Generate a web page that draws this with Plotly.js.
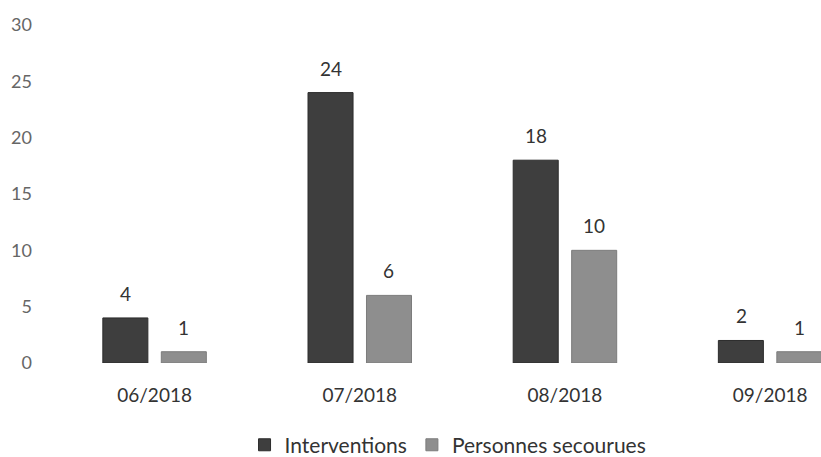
<!DOCTYPE html>
<html>
<head>
<meta charset="utf-8">
<script src="https://cdn.plot.ly/plotly-3.0.1.min.js"></script>
<style>html,body{margin:0;padding:0;background:#fff;}#chart{width:821px;height:457px;}</style>
</head>
<body>
<div id="chart"></div>
<script>
const months = ["06/2018", "07/2018", "08/2018", "09/2018"];
const interventions = [4, 24, 18, 2];
const personnesSecourues = [1, 6, 10, 1];
const yTicks = [0, 5, 10, 15, 20, 25, 30];

const font = "Lato, 'Open Sans', sans-serif";
const data = [
  {
    type: "bar", name: "Interventions", x: months, y: interventions,
    marker: {color: "#3e3e3e", line: {color: "#2c2c2c", width: 1}}
  },
  {
    type: "bar", name: "Personnes secourues", x: months, y: personnesSecourues,
    marker: {color: "#8e8e8e", line: {color: "#7c7c7c", width: 1}}
  }
];
const annotations = [];
months.forEach((m, i) => {
  annotations.push({x: m, y: interventions[i], text: String(interventions[i]), xshift: -29, yshift: 11,
    yanchor: "bottom", showarrow: false, font: {family: font, size: 19, color: "#333"}});
  annotations.push({x: m, y: personnesSecourues[i], text: String(personnesSecourues[i]), xshift: 29, yshift: 11,
    yanchor: "bottom", showarrow: false, font: {family: font, size: 19, color: "#333"}});
});
const layout = {
  width: 821, height: 457,
  margin: {l: 52, r: 0, t: 25, b: 94},
  paper_bgcolor: "#fff", plot_bgcolor: "#fff",
  barmode: "group", bargap: 0.43, bargroupgap: 0.23,
  font: {family: font, size: 17, color: "#555"},
  annotations: annotations,
  xaxis: {
    type: "category", range: [-0.5, 3.248], showgrid: false, showline: false,
    zeroline: false, ticks: "", ticklabelstandoff: 19,
    tickfont: {family: font, size: 19, color: "#333"}
  },
  yaxis: {
    range: [0, 30], tickvals: yTicks, showgrid: false, showline: false,
    zeroline: false, ticks: "", ticklabelstandoff: 19,
    tickfont: {family: font, size: 18, color: "#666"}
  },
  showlegend: true,
  legend: {
    orientation: "h", x: 0.515, xanchor: "center", yref: "container", y: 0.026, yanchor: "middle",
    font: {family: font, size: 21, color: "#333"}, itemwidth: 30, traceorder: "normal"
  }
};
Plotly.newPlot("chart", data, layout, {displayModeBar: false, staticPlot: true});
</script>
</body>
</html>
